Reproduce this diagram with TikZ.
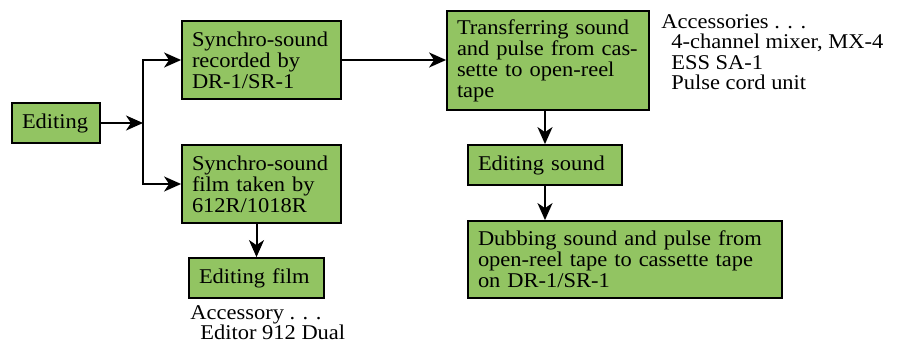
\documentclass[tikz,border=0pt]{standalone}
\usepackage{fontspec}
\setmainfont{Liberation Serif}[FakeStretch=1.07]
\usetikzlibrary{arrows.meta}
\definecolor{boxgreen}{RGB}{146,196,98}
\hyphenpenalty=10000
\exhyphenpenalty=10000
\begin{document}
\begin{tikzpicture}[x=0.5pt, y=-0.5pt,
  box/.style={draw, fill=boxgreen, line width=0.9pt, inner xsep=5pt, inner ysep=0pt,
    align=left, font=\fontsize{10.5}{10.5}\selectfont},
  note/.style={anchor=north west, inner sep=0pt, align=left, font=\fontsize{10.5}{10.2}\selectfont},
  link/.style={line width=1pt, -{Stealth[length=8.5pt,width=7.5pt,inset=2.5pt]}}]
  \useasboundingbox (0,0) rectangle (901,345);

  \node[box, minimum width=44pt, minimum height=20pt, text width=34pt] (edit) at (56,123) {Editing};
  \node[box, minimum width=79.5pt, minimum height=39pt, text width=69.5pt] (rec) at (261.5,60)
    {Synchro-sound\\recorded by\\DR-1/SR-1};
  \node[box, minimum width=79.5pt, minimum height=39pt, text width=69.5pt] (film) at (261.5,184)
    {Synchro-sound\\film taken by\\612R/1018R};
  \node[box, minimum width=67.5pt, minimum height=20pt, text width=57.5pt] (efilm) at (256.5,278)
    {Editing film};
  \node[box, minimum width=101pt, minimum height=49.5pt, text width=91pt] (trans) at (548,60.5)
    {Transferring sound\\and pulse from cas-\\sette to open-reel\\tape};
  \node[box, minimum width=77pt, minimum height=20pt, text width=67pt] (esnd) at (545,165)
    {Editing sound};
  \node[box, minimum width=157pt, minimum height=38.5pt, text width=147pt] (dub) at (625,259.5)
    {Dubbing sound and pulse from\\open-reel tape to cassette tape\\on DR-1/SR-1};

  \node[note] (acc) at (661,14)
    {Accessories . . .\\\hspace*{5pt}4-channel mixer, MX-4\\\hspace*{5pt}ESS SA-1\\\hspace*{5pt}Pulse cord unit};
  \node[note] (accfilm) at (190,305)
    {Accessory . . .\\\hspace*{5pt}Editor 912 Dual};

  \coordinate (fork) at (143,123);
  \draw[link] (edit) -- (fork);
  \draw[link] (fork) |- (rec.west);
  \draw[link] (fork) |- (film.west);
  \draw[link] (rec.east) -- (rec.east -| trans.west);
  \draw[link] (efilm.north |- film.south) -- (efilm.north);
  \draw[link] (esnd.north |- trans.south) -- (esnd.north);
  \draw[link] (esnd.south) -- (esnd.south |- dub.north);
\end{tikzpicture}
\end{document}
